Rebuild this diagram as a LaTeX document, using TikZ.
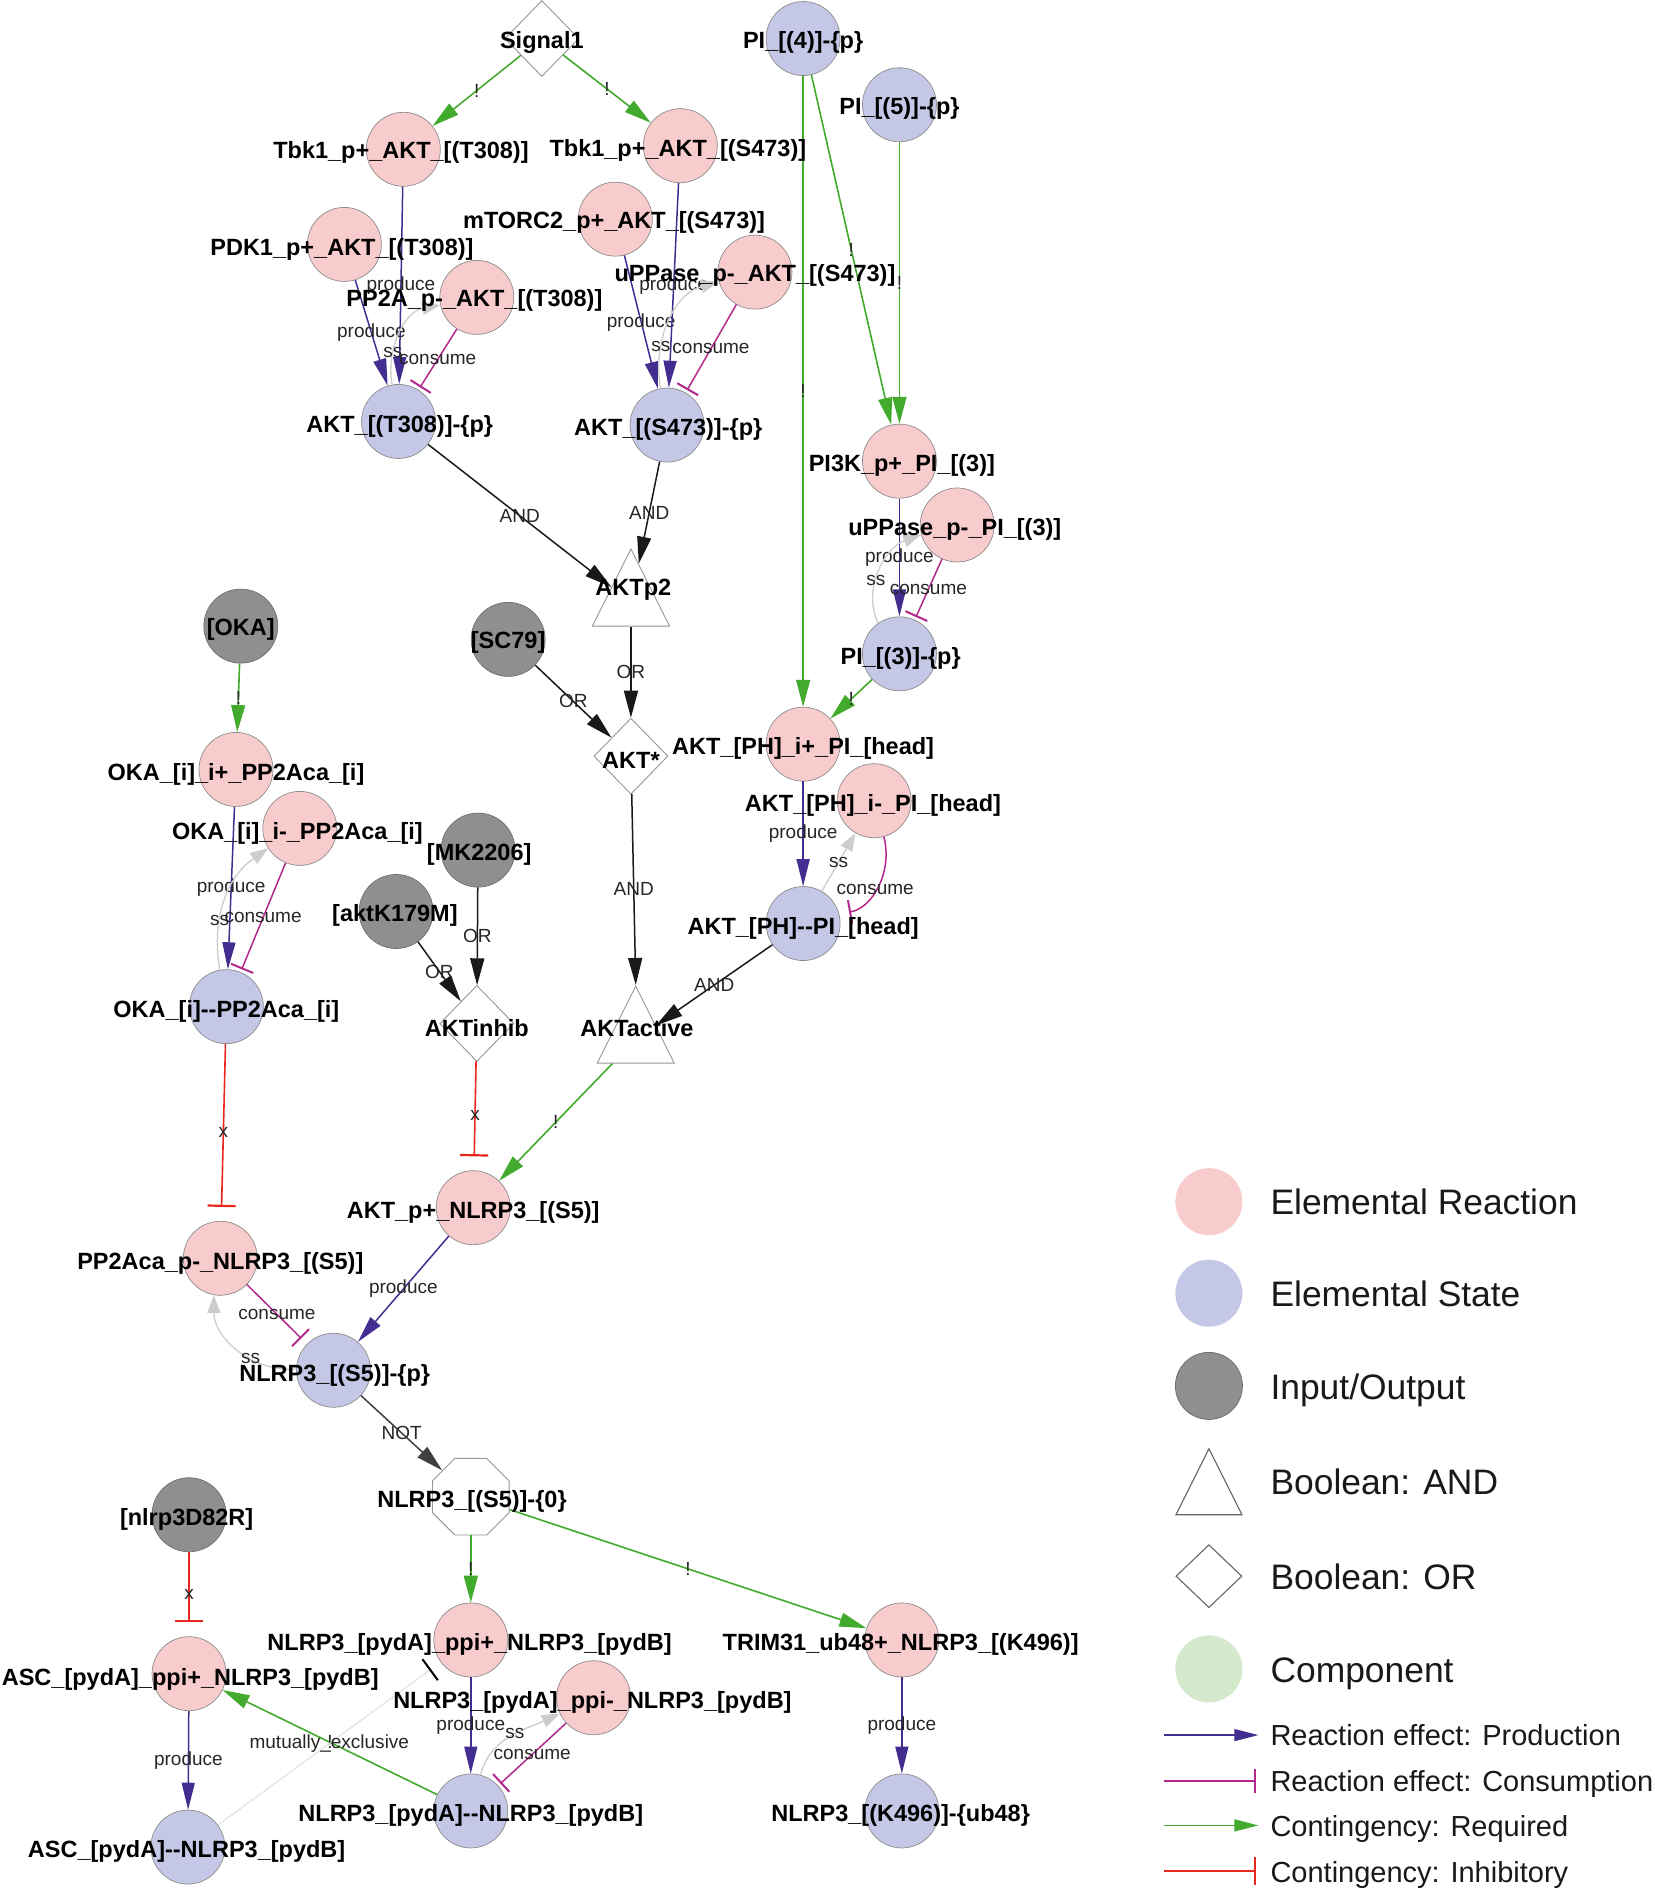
\documentclass[tikz,border=0pt]{standalone}
\usepackage{fontspec}
\newfontfamily\lsans{Liberation Sans}
\usetikzlibrary{shapes.geometric,arrows.meta}
\definecolor{rxfill}{RGB}{248,204,204}
\definecolor{stfill}{RGB}{197,199,230}
\definecolor{iofill}{RGB}{143,143,143}
\definecolor{ioborder}{RGB}{110,110,110}
\definecolor{ndborder}{RGB}{140,140,140}
\definecolor{gateborder}{RGB}{150,150,150}
\definecolor{prodc}{RGB}{68,45,145}
\definecolor{consc}{RGB}{178,40,140}
\definecolor{reqc}{RGB}{66,170,45}
\definecolor{inhc}{RGB}{232,40,30}
\definecolor{ssc}{RGB}{205,205,205}
\definecolor{mxc}{RGB}{222,222,222}
\definecolor{compc}{RGB}{212,232,204}
\begin{document}
\begin{tikzpicture}[x=1.2038pt, y=-1.2038pt,
  rx/.style={circle, draw=ndborder, line width=0.7pt, fill=rxfill, minimum size=74pt, inner sep=0pt},
  st/.style={rx, fill=stfill},
  io/.style={rx, fill=iofill, draw=ioborder},
  orgate/.style={diamond, draw=gateborder, line width=0.9pt, fill=white, minimum width=74pt, minimum height=76pt, inner sep=0pt},
  andgate/.style={isosceles triangle, isosceles triangle stretches, shape border rotate=90, draw=gateborder, line width=0.9pt, fill=white, minimum width=77pt, minimum height=77pt, inner sep=0pt, anchor=apex},
  notgate/.style={regular polygon, regular polygon sides=8, draw=gateborder, line width=0.9pt, fill=white, minimum size=83pt, inner sep=0pt},
  lbl/.style={font=\lsans\bfseries\fontsize{23.5}{26}\selectfont, inner sep=0pt, text=black, yshift=-3.5pt},
  elbl/.style={font=\lsans\fontsize{19}{21}\selectfont, inner sep=0pt, text=black!85},
  legtxt/.style={font=\lsans\fontsize{35.4}{40}\selectfont, inner sep=0pt, anchor=base west, text=black!90},
  legtxts/.style={font=\lsans\fontsize{29}{33}\selectfont, inner sep=0pt, anchor=base west, text=black!90},
  prod/.style={draw=prodc, line width=1.5pt, -{Triangle[length=27pt,width=13pt]}},
  cons/.style={draw=consc, line width=1.5pt, -{Bar[width=24pt,line width=2pt]}, shorten >=3pt},
  req/.style={draw=reqc, line width=1.6pt, -{Triangle[length=27pt,width=14pt]}},
  inh/.style={draw=inhc, line width=1.6pt, -{Bar[width=28pt,line width=2.2pt]}, shorten >=14pt},
  bool/.style={draw=black!90, line width=1.5pt, -{Triangle[length=27pt,width=14pt]}},
  ssl/.style={draw=ssc, line width=1.3pt, -{Triangle[length=18pt,width=13pt]}},
  mx/.style={draw=mxc, line width=1pt, -{Bar[width=26pt,line width=2pt,color=black]}, shorten >=12pt},
]
\useasboundingbox (0,0) rectangle (1374,1568);

% ---------------- shapes ----------------
\node[orgate] (sig) at (450,32) {};
\node[st] (pi4) at (667,32) {};
\node[st] (pi5) at (747,87) {};
\node[rx] (tbkT) at (335,124) {};
\node[rx] (tbkS) at (565,121) {};
\node[rx] (mtor) at (511,182) {};
\node[rx] (pdk) at (286,203) {};
\node[rx] (pp2a) at (396,247) {};
\node[rx] (uppA) at (627,226) {};
\node[st] (aktT) at (331,350) {};
\node[st] (aktS) at (554,353) {};
\node[rx] (pi3k) at (747,383) {};
\node[rx] (uppP) at (795,436) {};
\node[st] (pi3) at (747,543) {};
\node[andgate] (p2) at (524,455) {};
\node[io] (sc79) at (422,531) {};
\node[io] (oka) at (200,520) {};
\node[orgate] (aktstar) at (524,628) {};
\node[rx] (phip) at (667,618) {};
\node[rx] (phim) at (726,665) {};
\node[st] (phst) at (667,767) {};
\node[rx] (okaip) at (196,639) {};
\node[rx] (okaim) at (249,688) {};
\node[io] (mk) at (397,706) {};
\node[io] (k179) at (329,757) {};
\node[st] (okast) at (188,836) {};
\node[orgate] (inhib) at (396,850) {};
\node[andgate] (active) at (528,818) {};
\node[rx] (aktnl) at (393,1003) {};
\node[rx] (pp2nl) at (183,1045) {};
\node[st] (nls5) at (277,1138) {};
\node[notgate] (nl0) at (391,1243) {};
\node[io] (d82) at (157,1258) {};
\node[rx] (ppip) at (391,1362) {};
\node[rx] (trim) at (749,1362) {};
\node[rx] (ascp) at (157,1390) {};
\node[rx] (ppim) at (493,1410) {};
\node[st] (pydst) at (391,1504) {};
\node[st] (ascst) at (156,1534) {};
\node[st] (k496) at (749,1504) {};

% ---------------- required (green) ----------------
\draw[req] (sig) -- node[elbl]{!} (tbkT);
\draw[req] (sig) -- node[elbl]{!} (tbkS);
\draw[req] (pi4) -- node[elbl]{!} (phip);
\draw[req] (pi4) -- node[elbl]{!} (pi3k);
\draw[req] (pi5) -- node[elbl]{!} (pi3k);
\draw[req] (pi3) -- node[elbl]{!} (phip);
\draw[req] (oka) -- node[elbl]{!} (okaip);
\draw[req] (active) -- node[elbl]{!} (aktnl);
\draw[req] (nl0) -- node[elbl]{!} (ppip);
\draw[req] (nl0) -- node[elbl]{!} (trim);
\draw[req] (pydst) -- node[elbl]{!} (ascp);

% ---------------- mutually exclusive ----------------
\draw[mx] (ascst) -- node[elbl]{mutually\_exclusive} (ppip);

% ---------------- production ----------------
\draw[prod] (tbkT) -- node[elbl]{produce} (aktT);
\draw[prod] (pdk) -- node[elbl]{produce} (aktT);
\draw[prod] (mtor) -- node[elbl]{produce} (aktS);
\draw[prod] (tbkS) -- node[elbl]{produce} (aktS);
\draw[prod] (pi3k) -- node[elbl]{produce} (pi3);
\draw[prod] (phip) -- node[elbl]{produce} (phst);
\draw[prod] (okaip) -- node[elbl]{produce} (okast);
\draw[prod] (aktnl) -- node[elbl]{produce} (nls5);
\draw[prod] (ppip) -- node[elbl]{produce} (pydst);
\draw[prod] (ascp) -- node[elbl]{produce} (ascst);
\draw[prod] (trim) -- node[elbl]{produce} (k496);

% ---------------- consumption ----------------
\draw[cons] (pp2a) -- node[elbl]{consume} (aktT);
\draw[cons] (uppA) -- node[elbl]{consume} (aktS);
\draw[cons] (uppP) -- node[elbl]{consume} (pi3);
\draw[cons, shorten >=10pt] (phim.-75) to[out=-75,in=10] node[elbl, pos=0.55]{consume} (phst.15);
\draw[cons] (okaim) -- node[elbl]{consume} (okast);
\draw[cons, shorten >=8pt] (pp2nl) -- node[elbl]{consume} (nls5);
\draw[cons] (ppim) -- node[elbl]{consume} (pydst);

% ---------------- ss (grey) ----------------
\draw[ssl] (aktT.100) to[out=100,in=190] node[elbl, pos=0.3]{ss} (pp2a.192);
\draw[ssl] (aktS.100) to[out=100,in=195] node[elbl, pos=0.3]{ss} (uppA.195);
\draw[ssl] (pi3.125) to[out=115,in=200] node[elbl, pos=0.4]{ss} (uppP.195);
\draw[ssl] (phst) -- node[elbl]{ss} (phim);
\draw[ssl] (okast.100) to[out=100,in=215] node[elbl, pos=0.35]{ss} (okaim.212);
\draw[ssl] (nls5.178) to[out=185,in=-90] node[elbl, pos=0.38]{ss} (pp2nl.-100);
\draw[ssl] (pydst.75) to[out=75,in=205] node[elbl, pos=0.55]{ss} (ppim.205);

% ---------------- boolean ----------------
\draw[bool] (aktT) -- node[elbl]{AND} (p2);
\draw[bool] (aktS) -- node[elbl]{AND} (p2);
\draw[bool] (p2) -- node[elbl]{OR} (aktstar);
\draw[bool] (sc79) -- node[elbl]{OR} (aktstar);
\draw[bool] (aktstar) -- node[elbl]{AND} (active.apex);
\draw[bool] (phst) -- node[elbl]{AND} (active);
\draw[bool] (mk) -- node[elbl]{OR} (inhib);
\draw[bool] (k179) -- node[elbl]{OR} (inhib);
\draw[bool, draw=black!75] (nls5) -- node[elbl]{NOT} (nl0);

% ---------------- inhibitory (red) ----------------
\draw[inh] (okast) -- node[elbl]{x} (pp2nl);
\draw[inh] (inhib) -- node[elbl]{x} (aktnl);
\draw[inh] (d82) -- node[elbl]{x} (ascp);

% ---------------- node labels ----------------
\node[lbl] (t-sig) at (450,32) {Signal1};
\node[lbl] (t-pi4) at (667,32) {PI\_[(4)]-\{p\}};
\node[lbl] (t-pi5) at (747,87) {PI\_[(5)]-\{p\}};
\node[lbl] (t-tbkT) at (333,124) {Tbk1\_p+\_AKT\_[(T308)]};
\node[lbl] (t-tbkS) at (563,122) {Tbk1\_p+\_AKT\_[(S473)]};
\node[lbl] (t-mtor) at (510,182) {mTORC2\_p+\_AKT\_[(S473)]};
\node[lbl] (t-pdk) at (284,204) {PDK1\_p+\_AKT\_[(T308)]};
\node[lbl] (t-pp2a) at (394,247) {PP2A\_p-\_AKT\_[(T308)]};
\node[lbl] (t-uppA) at (627,226) {uPPase\_p-\_AKT\_[(S473)]};
\node[lbl] (t-aktT) at (332,351) {AKT\_[(T308)]-\{p\}};
\node[lbl] (t-aktS) at (555,354) {AKT\_[(S473)]-\{p\}};
\node[lbl] (t-pi3k) at (749,384) {PI3K\_p+\_PI\_[(3)]};
\node[lbl] (t-uppP) at (793,437) {uPPase\_p-\_PI\_[(3)]};
\node[lbl] (t-pi3) at (748,544) {PI\_[(3)]-\{p\}};
\node[lbl] (t-p2) at (526,487) {AKTp2};
\node[lbl] (t-sc79) at (422,531) {[SC79]};
\node[lbl] (t-oka) at (200,520) {[OKA]};
\node[lbl] (t-aktstar) at (524,629) {AKT*};
\node[lbl] (t-phip) at (667,619) {AKT\_[PH]\_i+\_PI\_[head]};
\node[lbl] (t-phim) at (725,666) {AKT\_[PH]\_i-\_PI\_[head]};
\node[lbl] (t-phst) at (667,768) {AKT\_[PH]--PI\_[head]};
\node[lbl] (t-okaip) at (196,640) {OKA\_[i]\_i+\_PP2Aca\_[i]};
\node[lbl] (t-okaim) at (247,689) {OKA\_[i]\_i-\_PP2Aca\_[i]};
\node[lbl] (t-mk) at (398,707) {[MK2206]};
\node[lbl] (t-k179) at (328,757) {[aktK179M]};
\node[lbl] (t-okast) at (188,837) {OKA\_[i]--PP2Aca\_[i]};
\node[lbl] (t-inhib) at (396,851) {AKTinhib};
\node[lbl] (t-active) at (529,851) {AKTactive};
\node[lbl] (t-aktnl) at (393,1004) {AKT\_p+\_NLRP3\_[(S5)]};
\node[lbl] (t-pp2nl) at (183,1046) {PP2Aca\_p-\_NLRP3\_[(S5)]};
\node[lbl] (t-nls5) at (278,1139) {NLRP3\_[(S5)]-\{p\}};
\node[lbl] (t-nl0) at (392,1244) {NLRP3\_[(S5)]-\{0\}};
\node[lbl] (t-d82) at (155,1259) {[nlrp3D82R]};
\node[lbl] (t-ppip) at (390,1363) {NLRP3\_[pydA]\_ppi+\_NLRP3\_[pydB]};
\node[lbl] (t-trim) at (748,1363) {TRIM31\_ub48+\_NLRP3\_[(K496)]};
\node[lbl] (t-ascp) at (158,1392) {ASC\_[pydA]\_ppi+\_NLRP3\_[pydB]};
\node[lbl] (t-ppim) at (492,1411) {NLRP3\_[pydA]\_ppi-\_NLRP3\_[pydB]};
\node[lbl] (t-pydst) at (391,1505) {NLRP3\_[pydA]--NLRP3\_[pydB]};
\node[lbl] (t-ascst) at (155,1535) {ASC\_[pydA]--NLRP3\_[pydB]};
\node[lbl] (t-k496) at (748,1505) {NLRP3\_[(K496)]-\{ub48\}};

% ---------------- legend ----------------
\node[circle, fill=rxfill, minimum size=67pt, inner sep=0pt] (lg-rx) at (1004,998) {};
\node[legtxt] (lt-rx) at (1055,1009) {Elemental Reaction};
\node[circle, fill=stfill, minimum size=67pt, inner sep=0pt] (lg-st) at (1004,1074) {};
\node[legtxt] (lt-st) at (1055,1085) {Elemental State};
\node[circle, fill=iofill, draw=ioborder, line width=0.8pt, minimum size=67pt, inner sep=0pt] (lg-io) at (1004,1151) {};
\node[legtxt] (lt-io) at (1055,1162) {Input/Output};
\node[andgate, minimum width=66pt, minimum height=66pt, draw=black!60, line width=1.1pt] (lg-and) at (1004,1202) {};
\node[legtxt] (lt-and) at (1055,1241) {Boolean: AND};
\node[orgate, minimum width=66pt, minimum height=63pt, draw=black!60, line width=1.1pt] (lg-or) at (1004,1309) {};
\node[legtxt] (lt-or) at (1055,1320) {Boolean: OR};
\node[circle, fill=compc, minimum size=67pt, inner sep=0pt] (lg-comp) at (1004,1386) {};
\node[legtxt] (lt-comp) at (1055,1397) {Component};
\coordinate (la1) at (967,1441); \coordinate (lb1) at (1045,1441);
\coordinate (la2) at (967,1479); \coordinate (lb2) at (1043,1479);
\coordinate (la3) at (967,1516); \coordinate (lb3) at (1045,1516);
\coordinate (la4) at (967,1554); \coordinate (lb4) at (1043,1554);
\draw[prod, -{Triangle[length=24pt,width=12pt]}] (la1) -- (lb1);
\draw[cons, shorten >=0pt] (la2) -- (lb2);
\draw[req, -{Triangle[length=24pt,width=12pt]}] (la3) -- (lb3);
\draw[inh, shorten >=0pt] (la4) -- (lb4);
\node[legtxts] (lt-1) at (1055,1450) {Reaction effect: Production};
\node[legtxts] (lt-2) at (1055,1488) {Reaction effect: Consumption};
\node[legtxts] (lt-3) at (1055,1525) {Contingency: Required};
\node[legtxts] (lt-4) at (1055,1563) {Contingency: Inhibitory};
\end{tikzpicture}
\end{document}
